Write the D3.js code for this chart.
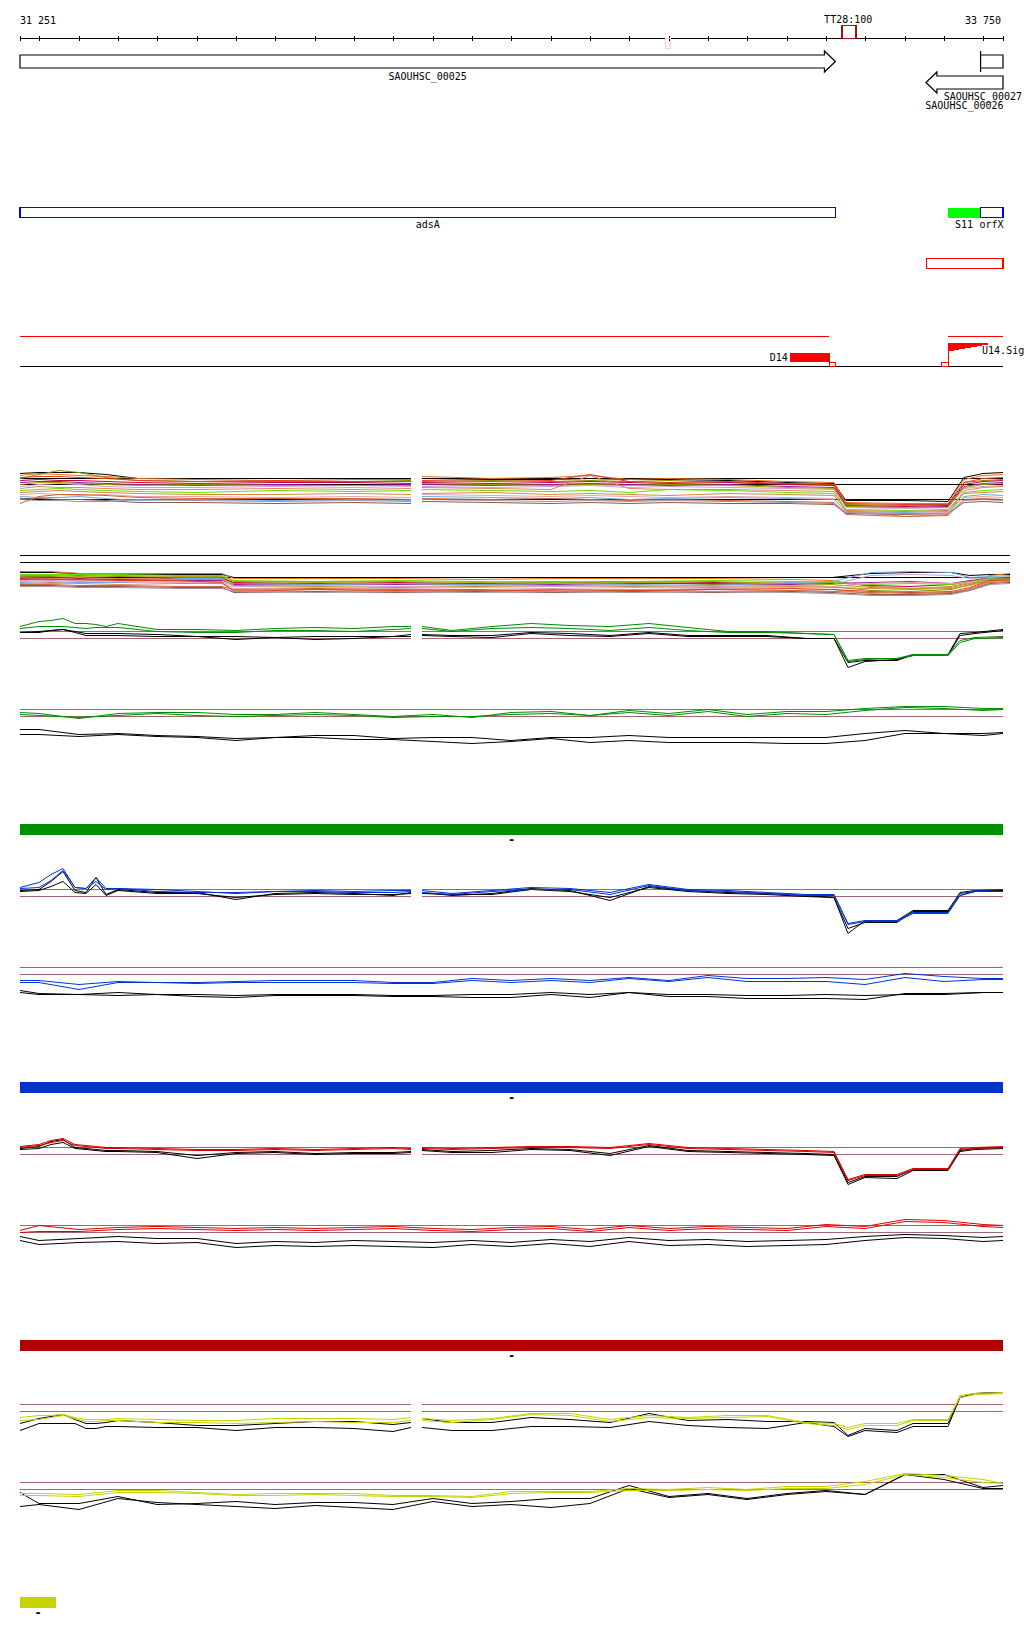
<!DOCTYPE html>
<html>
<head>
<meta charset="utf-8">
<script src="https://cdn.jsdelivr.net/npm/d3@7"></script>
<style>
body { margin: 0; background: #fff; }
text { font-family: "DejaVu Sans Mono", monospace; font-size: 10px; fill: #000; }
</style>
</head>
<body>
<script>
// view window (bp)
var viewStart = 31251, viewEnd = 33750;
var gapStart = 32245, gapEnd = 32273;

// annotation
var genes = [
    {name: "SAOUHSC_00025", start: 31251, end: 33324, strand: 1},
    {name: "SAOUHSC_00027", start: 33693, end: 33750, strand: -1},
    {name: "SAOUHSC_00026", start: 33554, end: 33750, strand: -1}
];
var regions = [
    {name: "adsA", start: 31251, end: 33324, fill: "none"},
    {name: "S11", start: 33610, end: 33692, fill: "#00ff00"},
    {name: "orfX", start: 33692, end: 33750, fill: "none"}
];
var redBox = [33555, 33750];
var redSegments = [[31251, 33307], [33610, 33750]];
var d14 = [33208, 33309];
var smallBoxes = [[33307, 33322], [33593, 33610]];
var u14 = [33610, 33712];
var tt28 = [33341, 33377];
var faintMark = [32891, 32905];

// multi-sample track 1 (with gap)
var posA = [31251, 31300, 31350, 31400, 31470, 31550, 31700, 31900, 32100, 32245, 32259, 32273, 32450, 32600, 32700, 32800, 32900, 33050, 33200, 33320, 33350, 33500, 33610, 33650, 33700, 33750];
var refA = [0.6, 0.0, -1.5];
var seriesA = [
    [1.1,1.2,1.2,1.2,1.0,0.6,0.6,0.6,0.6,0.6,null,0.6,0.5,0.5,0.6,0.5,0.5,0.4,0.2,0.1,-1.6,-1.6,-1.7,0.7,1.1,1.2],
    [0.9,1.1,1.0,0.9,0.8,0.6,0.5,0.4,0.5,0.5,null,0.8,0.6,0.7,0.9,0.5,0.6,0.5,0.3,0.2,-1.8,-1.9,-1.9,0.5,0.9,1.0],
    [0.6,1.0,1.4,1.2,0.7,0.4,0.3,0.3,0.3,0.4,null,0.3,0.4,0.3,0.4,0.3,0.4,0.2,0.1,0.0,-2.0,-2.1,-2.0,0.2,0.4,0.5],
    [0.4,0.5,0.4,0.4,0.3,0.2,0.1,0.2,0.2,0.1,null,0.2,0.1,0.2,0.3,0.2,0.1,0.2,0.0,-0.1,-2.1,-2.2,-2.1,0.0,0.3,0.4],
    [0.2,0.3,0.3,0.2,0.1,0.0,-0.1,0.0,-0.1,0.0,null,0.0,-0.1,0.0,0.1,0.0,-0.1,0.0,-0.2,-0.3,-2.2,-2.3,-2.2,-0.2,0.1,0.2],
    [-0.2,0.0,0.1,0.0,-0.2,-0.3,-0.3,-0.2,-0.3,-0.2,null,-0.2,-0.3,-0.2,-0.1,-0.3,-0.2,-0.3,-0.4,-0.5,-2.3,-2.4,-2.3,-0.4,-0.2,-0.1],
    [-0.4,-0.2,-0.3,-0.3,-0.4,-0.5,-0.5,-0.4,-0.5,-0.4,null,-0.3,-0.4,-0.5,0.9,-0.4,-0.5,-0.5,-0.6,-0.7,-2.6,-3.2,-3.0,-0.6,-0.3,-0.2],
    [-0.6,-0.5,-0.4,-0.5,-0.6,-0.7,-0.8,-0.6,-0.7,-0.6,null,-0.5,-0.6,-0.7,-0.6,-0.8,-0.5,-0.6,-0.8,-0.9,-2.5,-2.6,-2.5,-0.8,-0.6,-0.5],
    [-1.2,-1.3,-1.3,-1.2,-1.4,-1.6,-1.5,-1.6,-1.5,-1.6,null,-1.2,-1.3,-1.4,-1.3,-1.5,-1.4,-1.3,-1.4,-1.5,-2.7,-2.8,-2.7,-1.2,-1.0,-1.1],
    [-1.4,-1.4,-1.5,-1.5,-1.6,-1.8,-1.8,-1.9,-1.8,-1.9,null,-1.7,-1.8,-1.9,-1.8,-1.9,-1.8,-1.9,-1.9,-2.0,-2.9,-3.0,-2.9,-1.8,-1.7,-1.8],
    [-0.8,-0.7,-0.6,-0.7,-0.8,-0.9,-1.0,-1.0,-0.9,-1.0,null,-0.9,-0.8,-1.0,-0.9,-1.0,-1.1,-0.9,-1.0,-1.1,-2.6,-2.7,-2.6,-0.9,-0.8,-0.7],
    [-1.0,-0.9,-1.0,-1.1,-1.0,-1.2,-1.2,-1.3,-1.2,-1.3,null,-1.0,-1.1,-1.2,-1.1,-1.2,-1.3,-1.2,-1.3,-1.4,-2.8,-2.9,-2.8,-1.3,-1.2,-1.3],
    [-1.9,-1.2,-1.0,-1.0,-1.1,-1.3,-1.4,-1.4,-1.4,-1.5,null,-1.4,-1.5,-1.4,-1.5,-1.6,-1.5,-1.6,-1.7,-1.8,-3.0,-3.2,-3.1,-1.5,-1.4,-1.5],
    [0.0,0.2,0.2,0.1,0.0,-0.1,0.0,-0.1,-0.1,-0.1,null,0.1,0.0,-0.1,0.0,-0.1,0.0,-0.1,-0.3,-0.4,-2.2,-2.3,-2.3,-0.3,0.0,0.1],
    [0.7,0.8,0.8,0.7,0.6,0.4,0.3,0.4,0.3,0.3,null,0.4,0.3,0.4,1.0,0.3,0.2,0.3,0.1,0.0,-1.9,-2.0,-2.0,0.2,0.6,0.7],
    [-1.5,-1.6,-1.6,-1.7,-1.7,-1.5,-1.6,-1.7,-1.6,-1.7,null,-1.5,-1.6,-1.7,-1.6,-1.7,-1.6,-1.7,-1.8,-1.9,-2.8,-2.9,-2.9,-1.6,-1.5,-1.6]
];

// multi-sample track 2 (continuous)
var posB = [31251, 31330, 31400, 31500, 31650, 31760, 31790, 32000, 32200, 32400, 32600, 32800, 33000, 33200, 33300, 33400, 33500, 33600, 33650, 33700, 33750];
var refB = [2.5, 1.8, 0.3];
var seriesB = [
    [0.8,0.8,0.7,0.6,0.6,0.6,0.3,0.3,0.3,0.3,0.3,0.3,0.3,0.3,0.3,0.7,0.8,0.8,0.5,0.6,0.6],
    [0.9,0.9,0.7,0.7,0.7,0.7,0.2,0.2,0.2,0.1,0.2,0.2,0.2,0.1,0.0,-0.6,-0.8,-0.6,-0.2,0.5,0.7],
    [0.4,0.4,0.5,0.4,0.3,0.3,-0.3,-0.4,-0.3,-0.4,-0.3,-0.2,-0.4,-0.5,-0.6,-1.0,-1.1,-0.9,-0.4,0.1,0.2],
    [0.2,0.3,0.2,0.1,0.2,0.2,-0.2,-0.1,-0.2,-0.3,-0.2,-0.1,-0.2,-0.3,-0.2,-0.5,-0.6,-0.4,-0.1,0.3,0.3],
    [0.1,0.2,0.0,0.1,0.0,0.0,-0.4,-0.3,-0.4,-0.3,-0.4,-0.3,-0.3,-0.4,-0.3,-0.2,-0.1,-0.3,0.0,0.2,0.2],
    [-0.1,0.0,-0.1,-0.2,-0.1,-0.1,-0.6,-0.5,-0.6,-0.5,-0.6,-0.5,-0.6,-0.5,-0.4,0.5,0.6,0.5,0.2,0.3,0.4],
    [-0.3,-0.2,-0.3,-0.4,-0.3,-0.3,-1.0,-0.9,-1.1,-1.0,-1.0,-0.9,-1.1,-1.0,-0.9,-1.3,-1.5,-1.3,-0.8,-0.1,0.0],
    [0.6,0.6,0.6,0.6,0.5,0.5,0.0,-0.1,0.0,-0.1,-0.2,-0.1,0.0,-0.1,-0.2,-0.4,-0.3,-0.4,-0.1,0.2,0.1],
    [-0.2,-0.3,-0.2,-0.2,0.2,0.2,-0.5,-0.4,-0.3,-0.4,-0.3,-0.4,-0.5,-0.2,-0.1,0.8,0.9,0.8,0.3,0.4,0.5],
    [-0.5,-0.5,-0.6,-0.6,-0.7,-0.7,-1.2,-1.1,-1.2,-1.1,-1.2,-1.1,-1.2,-1.1,-1.2,-1.4,-1.4,-1.3,-1.0,-0.3,-0.2],
    [0.3,0.2,0.3,0.2,0.1,0.1,-0.5,-0.6,-0.7,-0.6,-0.5,-0.6,-0.7,-0.6,-0.7,-0.8,-0.9,-0.8,-0.5,0.0,0.0],
    [0.0,-0.1,0.0,-0.1,-0.2,-0.2,-0.8,-0.7,-0.8,-0.7,-0.8,-0.7,-0.8,-0.7,-0.6,-0.3,-0.2,-0.3,-0.2,0.1,0.1],
    [-0.4,-0.4,-0.5,-0.5,-0.6,-0.6,-0.9,-0.8,-0.9,-1.0,-0.9,-1.0,-0.9,-1.0,-1.1,-1.2,-1.3,-1.2,-0.9,-0.2,-0.1],
    [0.5,0.5,0.4,0.5,0.4,0.4,-0.1,-0.2,-0.1,-0.2,-0.1,-0.2,-0.1,-0.3,-0.4,-0.7,-0.8,-0.7,-0.3,0.1,0.2],
    [0.1,0.1,0.1,0.0,0.0,-0.2,-1.1,-0.9,-1.0,-0.9,-1.1,-1.0,-0.9,-0.8,-0.9,-1.1,-1.2,-1.1,-0.7,0.0,0.1],
    [-0.6,-0.6,-0.7,-0.7,-0.8,-0.8,-1.1,-1.2,-1.1,-1.2,-1.1,-1.2,-1.1,-1.2,-1.3,-1.5,-1.5,-1.4,-1.0,-0.4,-0.3]
];
var sampleColours = ["#000000","#e8731f","#8c8c00","#c8003c","#9a1a9a","#c8a0d2","#e8806a","#66dd00",
                     "#6aa8e8","#8b5a4b","#d48a3a","#e8a0b0","#cc6633","#a8a800","#e04020","#a090a8"];

// condition tracks: positions
var posGap = [31251, 31300, 31330, 31360, 31390, 31420, 31445, 31470, 31500, 31600, 31700, 31800, 31900, 32000, 32100, 32200, 32245, 32259,
              32273, 32350, 32450, 32550, 32650, 32750, 32850, 32950, 33050, 33150, 33250, 33320, 33355, 33400, 33480, 33520, 33610, 33640, 33680, 33750];
var posFull = [31251, 31300, 31400, 31500, 31600, 31700, 31800, 31900, 32000, 32100, 32200, 32300, 32400, 32500,
               32600, 32700, 32800, 32900, 33000, 33100, 33200, 33300, 33400, 33500, 33600, 33700, 33750];

// green condition
var greenGapCol = [
    [0.8,1.3,1.4,1.6,1.1,1.1,1.0,0.8,1.1,0.5,0.5,0.4,0.6,0.7,0.6,0.8,0.8,null,0.8,0.4,0.8,1.1,0.9,0.8,1.1,0.7,0.3,0.3,0.1,0.0,-2.6,-2.4,-2.4,-2.0,-2.0,-0.6,-0.3,-0.2],
    [0.6,0.8,0.8,0.8,0.7,0.6,0.7,0.7,0.7,0.3,0.2,0.2,0.4,0.4,0.3,0.5,0.6,null,0.6,0.3,0.6,0.7,0.6,0.4,0.7,0.4,0.2,0.2,0.1,0.0,-2.7,-2.5,-2.4,-2.1,-2.1,-0.8,-0.4,-0.3]
];
var greenGapBlk = [
    [0.2,0.3,0.4,0.5,0.3,0.1,0.1,0.1,0.1,0.0,-0.2,-0.2,-0.3,-0.5,-0.4,-0.2,-0.2,null,0.0,-0.1,-0.1,0.2,0.1,-0.1,0.2,-0.1,-0.1,-0.1,-0.4,-0.4,-2.8,-2.6,-2.6,-2.0,-2.0,0.1,0.2,0.5],
    [0.2,0.2,0.4,0.5,0.2,-0.1,-0.1,-0.1,-0.1,-0.2,-0.2,-0.5,-0.3,-0.2,-0.2,-0.2,0.0,null,-0.1,-0.2,-0.3,0.1,-0.1,-0.2,0.1,-0.2,-0.2,-0.2,-0.4,-0.4,-3.3,-2.7,-2.5,-2.1,-2.1,-0.1,0.1,0.4]
];
var greenFullCol = [
    [0.0,-0.1,-0.6,-0.1,0.0,0.0,-0.2,-0.2,0.0,-0.2,-0.4,-0.2,-0.5,0.0,0.1,-0.3,0.2,-0.1,0.3,-0.2,0.1,0.1,0.4,0.6,0.6,0.4,0.4],
    [-0.2,-0.3,-0.5,-0.3,-0.1,-0.3,-0.4,-0.3,-0.2,-0.3,-0.5,-0.4,-0.4,-0.2,-0.1,-0.3,0.0,-0.3,0.1,-0.4,-0.1,-0.2,0.2,0.5,0.4,0.2,0.3]
];
var greenFullBlk = [
    [-1.7,-1.7,-2.2,-2.1,-2.3,-2.4,-2.6,-2.5,-2.3,-2.3,-2.6,-2.5,-2.5,-2.8,-2.5,-2.5,-2.3,-2.5,-2.5,-2.5,-2.5,-2.5,-2.1,-1.8,-2.1,-2.1,-2.0],
    [-2.2,-2.2,-2.4,-2.2,-2.4,-2.5,-2.8,-2.5,-2.5,-2.7,-2.7,-2.9,-3.1,-2.9,-2.6,-3.0,-2.8,-3.0,-3.0,-3.0,-3.1,-3.1,-2.8,-2.1,-2.1,-2.3,-2.1]
];

// blue condition
var blueGapCol = [
    [0.5,1.0,1.8,2.4,0.5,0.4,1.5,0.4,0.4,0.3,0.1,-0.1,0.1,0.2,0.1,0.2,0.2,null,0.2,-0.1,0.2,0.5,0.4,0.0,0.8,0.3,0.2,0.0,-0.2,-0.2,-3.1,-2.8,-2.8,-2.0,-2.0,-0.1,0.1,0.1],
    [0.4,0.5,1.2,2.2,0.5,0.4,1.1,0.3,0.4,0.1,0.0,0.0,0.1,0.1,0.0,0.0,0.1,null,0.0,-0.2,0.1,0.3,0.3,-0.2,0.7,0.2,0.1,-0.1,-0.3,-0.3,-3.2,-2.9,-2.9,-2.1,-2.1,-0.3,0.2,0.3]
];
var blueGapBlk = [
    [0.2,0.3,1.1,2.1,0.2,0.0,1.5,-0.2,0.3,0.0,0.0,-0.7,-0.1,0.0,-0.1,-0.3,0.0,null,0.0,-0.3,-0.1,0.4,0.2,-0.8,0.6,0.2,0.0,-0.1,-0.3,-0.5,-4.1,-2.8,-2.8,-1.8,-1.8,0.0,0.2,0.2],
    [0.1,0.2,0.6,1.1,0.0,-0.1,0.8,-0.3,0.2,-0.1,-0.1,-0.5,-0.2,-0.1,-0.2,-0.2,-0.1,null,-0.1,-0.2,-0.2,0.3,0.1,-0.5,0.5,0.1,-0.1,-0.2,-0.4,-0.5,-3.6,-3.0,-3.0,-1.9,-1.9,-0.3,0.1,0.1]
];
var blueFullCol = [
    [-1.0,-1.0,-1.4,-1.1,-1.2,-1.2,-1.1,-1.0,-1.0,-1.0,-1.2,-1.2,-0.8,-1.0,-0.8,-1.0,-0.7,-1.0,-0.5,-0.8,-0.8,-0.7,-0.9,-0.3,-0.6,-0.8,-0.8],
    [-1.2,-1.2,-1.9,-1.2,-1.2,-1.3,-1.2,-1.2,-1.2,-1.2,-1.3,-1.3,-1.0,-1.2,-1.0,-1.2,-0.8,-1.1,-0.7,-1.1,-1.1,-1.1,-1.4,-0.7,-1.1,-0.9,-0.9]
];
var blueFullBlk = [
    [-2.0,-2.3,-2.4,-2.2,-2.4,-2.4,-2.5,-2.4,-2.4,-2.4,-2.5,-2.5,-2.4,-2.4,-2.2,-2.4,-2.2,-2.4,-2.4,-2.5,-2.5,-2.4,-2.5,-2.4,-2.4,-2.2,-2.2],
    [-2.2,-2.4,-2.4,-2.5,-2.4,-2.6,-2.7,-2.5,-2.5,-2.5,-2.6,-2.6,-2.7,-2.7,-2.4,-2.7,-2.2,-2.6,-2.6,-2.8,-2.8,-2.8,-2.9,-2.3,-2.3,-2.2,-2.2]
];

// red condition
var redGapCol = [
    [0.4,0.6,1.0,1.2,0.6,0.5,0.4,0.3,0.3,0.2,0.1,0.1,0.2,0.1,0.2,0.3,0.2,null,0.3,0.2,0.3,0.4,0.4,0.3,0.7,0.3,0.2,0.1,0.0,-0.1,-2.9,-2.4,-2.4,-1.8,-1.8,0.2,0.3,0.4],
    [0.3,0.5,0.8,1.0,0.5,0.4,0.3,0.2,0.2,0.1,0.0,0.0,0.1,0.0,0.1,0.2,0.1,null,0.2,0.1,0.2,0.3,0.3,0.2,0.6,0.2,0.1,0.0,-0.1,-0.2,-3.0,-2.5,-2.5,-1.9,-1.9,0.1,0.2,0.3]
];
var redGapBlk = [
    [0.2,0.4,0.9,1.1,0.3,0.2,0.1,0.0,0.0,-0.1,-0.5,-0.2,-0.1,-0.3,-0.2,-0.2,-0.1,null,0.1,-0.1,0.0,0.2,0.1,-0.3,0.5,0.0,-0.1,-0.2,-0.3,-0.4,-3.2,-2.6,-2.6,-1.9,-1.9,0.0,0.2,0.3],
    [0.1,0.2,0.6,0.8,0.2,0.1,0.0,-0.1,-0.1,-0.2,-0.8,-0.3,-0.2,-0.4,-0.3,-0.3,-0.2,null,0.0,-0.2,-0.2,0.1,0.0,-0.5,0.4,-0.1,-0.2,-0.3,-0.4,-0.5,-3.4,-2.7,-2.8,-2.0,-2.0,-0.1,0.1,0.2]
];
var redFullCol = [
    [-0.2,0.3,-0.1,0.1,0.2,0.1,0.0,0.1,0.0,0.1,0.2,0.0,-0.1,0.1,0.2,-0.1,0.3,0.0,0.2,0.1,0.0,0.4,0.2,0.9,0.8,0.4,0.3],
    [-0.4,-0.3,-0.3,-0.1,0.0,-0.1,-0.2,-0.1,-0.2,-0.1,0.0,-0.2,-0.3,-0.1,0.0,-0.3,0.1,-0.2,0.0,-0.1,-0.2,0.2,0.0,0.7,0.6,0.2,0.1]
];
var redFullBlk = [
    [-0.8,-1.2,-1.0,-0.8,-1.0,-1.0,-1.5,-1.3,-1.4,-1.2,-1.3,-1.4,-1.2,-1.4,-1.1,-1.3,-0.9,-1.2,-1.1,-1.3,-1.2,-1.1,-0.8,-0.6,-0.7,-0.9,-0.8],
    [-1.2,-1.6,-1.4,-1.3,-1.5,-1.4,-1.9,-1.7,-1.8,-1.7,-1.8,-1.9,-1.6,-1.8,-1.5,-1.8,-1.3,-1.7,-1.6,-1.8,-1.7,-1.6,-1.2,-0.9,-1.0,-1.3,-1.2]
];

// yellow condition
var yellowGapCol = [
    [-1.0,-0.8,-0.8,-0.7,-1.0,-1.2,-1.2,-1.2,-1.1,-1.2,-1.3,-1.3,-1.1,-1.1,-1.1,-1.2,-1.0,null,-1.1,-1.3,-1.1,-0.6,-0.6,-1.2,-0.8,-1.0,-0.8,-0.8,-1.5,-1.6,-2.0,-1.6,-1.6,-1.2,-1.2,1.2,1.4,1.5],
    [-1.3,-1.2,-1.0,-0.8,-1.1,-1.4,-1.4,-1.3,-1.3,-1.5,-1.5,-1.6,-1.5,-1.4,-1.5,-1.5,-1.3,null,-1.3,-1.5,-1.2,-0.7,-0.8,-1.4,-1.0,-1.1,-1.0,-0.9,-1.6,-1.8,-2.2,-1.8,-1.8,-1.3,-1.3,1.0,1.3,1.4]
];
var yellowGapBlk = [
    [-1.6,-1.1,-0.9,-0.7,-1.2,-1.6,-1.6,-1.5,-1.3,-1.5,-1.8,-1.8,-1.6,-1.4,-1.4,-1.7,-1.5,null,-1.1,-1.5,-1.5,-1.0,-1.2,-1.5,-0.6,-1.3,-1.2,-1.4,-1.4,-1.5,-2.8,-2.1,-2.3,-1.6,-1.6,1.0,1.4,1.5],
    [-2.3,-1.6,-1.6,-1.6,-1.6,-2.1,-2.1,-1.9,-1.9,-2.0,-2.0,-2.3,-2.0,-2.0,-2.1,-2.4,-2.0,null,-2.0,-2.3,-2.3,-1.9,-1.9,-2.0,-1.4,-1.8,-2.0,-2.1,-1.5,-1.9,-2.9,-2.3,-2.5,-1.9,-1.9,1.0,1.4,1.5]
];
var yellowFullCol = [
    [-0.8,-0.8,-0.9,-0.5,-0.5,-0.7,-0.9,-0.8,-0.8,-0.8,-1.0,-1.0,-1.1,-0.6,-0.6,-0.6,-0.3,-0.4,-0.2,-0.4,-0.1,-0.1,0.4,1.2,1.0,0.6,0.2],
    [-1.0,-1.0,-1.1,-0.7,-0.7,-0.8,-1.0,-1.0,-0.9,-1.0,-1.1,-1.1,-1.2,-0.8,-0.7,-0.7,-0.5,-0.5,-0.4,-0.5,-0.3,-0.3,0.1,1.1,0.8,0.3,0.2]
];
var yellowFullBlk = [
    [-0.7,-1.8,-1.8,-1.1,-1.9,-1.8,-1.6,-1.9,-1.7,-1.7,-1.9,-1.3,-1.8,-1.6,-1.3,-1.3,0.0,-1.1,-0.8,-1.3,-0.8,-0.5,-0.9,1.1,1.1,-0.2,0.0],
    [-2.1,-1.9,-2.4,-1.3,-1.7,-1.9,-2.1,-2.3,-2.0,-2.2,-2.4,-1.6,-2.1,-1.9,-2.2,-1.8,-0.3,-1.2,-0.9,-1.4,-0.9,-0.6,-0.9,1.1,0.6,-0.3,-0.3]
];
var bandLimits = [0.35, -0.35];

// condition bars
var conditionBars = [
    {colour: "#008f00", start: 31251, end: 33750},
    {colour: "#0033cc", start: 31251, end: 33750},
    {colour: "#b30000", start: 31251, end: 33750},
    {colour: "#c8d400", start: 31251, end: 31343}
];

// ---------------- drawing ----------------
var width = 1024, height = 1640;

var x = d3.scaleLinear().domain([viewStart, viewEnd]).range([20, 1003]);
var xWide = d3.scaleLinear().domain([viewStart, viewEnd]).range([20, 1010]);

var svg = d3.select("body").append("svg")
    .attr("width", width)
    .attr("height", height)
    .style("display", "block")
    .attr("shape-rendering", "crispEdges");

// ruler
var spaced = d3.formatLocale({decimal: ".", thousands: " ", grouping: [3], currency: ["", ""]}).format(",");
var ruler = svg.append("g");
ruler.append("line")
    .attr("x1", x(viewStart)).attr("x2", x(viewEnd))
    .attr("y1", 38.5).attr("y2", 38.5)
    .attr("stroke", "#000");
var tickPos = [viewStart].concat(x.ticks(25), [viewEnd]);
ruler.selectAll("line.tick").data(tickPos).enter().append("line")
    .attr("class", "tick")
    .attr("x1", function(d) { return Math.round(x(d)) + 0.5; })
    .attr("x2", function(d) { return Math.round(x(d)) + 0.5; })
    .attr("y1", 36).attr("y2", 41)
    .attr("stroke", "#000");
ruler.append("text").attr("x", x(viewStart)).attr("y", 24).text(spaced(viewStart));
ruler.append("text").attr("x", x(viewEnd) - 2).attr("y", 24).attr("text-anchor", "end").text(spaced(viewEnd));

ruler.append("rect")
    .attr("x", x(faintMark[0])).attr("y", 38)
    .attr("width", x(faintMark[1]) - x(faintMark[0])).attr("height", 10)
    .attr("fill", "none").attr("stroke", "#ffd0c4");
ruler.append("rect")
    .attr("x", x(tt28[0])).attr("y", 25.5)
    .attr("width", x(tt28[1]) - x(tt28[0])).attr("height", 13)
    .attr("fill", "none").attr("stroke", "#a01010").attr("stroke-width", 1.6);
ruler.append("text").attr("x", (x(tt28[0]) + x(tt28[1])) / 2 - 1).attr("y", 23)
    .attr("text-anchor", "middle").text("TT28:100");

// genes
function arrowPath(s, e, yc, strand) {
    var x0 = x(s), x1 = x(e), b = 6.5, h = 10.5, hl = 11;
    if (strand > 0) {
        return "M" + x0 + "," + (yc - b) + "H" + (x1 - hl) + "V" + (yc - h) + "L" + x1 + "," + yc +
            "L" + (x1 - hl) + "," + (yc + h) + "V" + (yc + b) + "H" + x0 + "Z";
    }
    return "M" + x1 + "," + (yc - b) + "H" + (x0 + hl) + "V" + (yc - h) + "L" + x0 + "," + yc +
        "L" + (x0 + hl) + "," + (yc + h) + "V" + (yc + b) + "H" + x1 + "Z";
}
function labelX(cx, txt) {
    // keep the label inside the page
    var half = txt.length * 6.02 / 2;
    return Math.min(cx, width - 2 - half);
}
var geneRows = {"SAOUHSC_00025": [61.5, 80], "SAOUHSC_00027": [61.5, 100], "SAOUHSC_00026": [82.5, 109]};
var geneG = svg.append("g").attr("shape-rendering", "auto");
genes.forEach(function(g) {
    var row = geneRows[g.name];
    var d;
    if (x(g.end) - x(g.start) < 30) {
        // too short for a head: shaft plus head base only
        var x0 = x(g.start), x1 = x(g.end), yc = row[0];
        d = "M" + x0 + "," + (yc - 10.5) + "V" + (yc + 10.5) + "M" + x0 + "," + (yc - 6.5) + "H" + x1 + "V" + (yc + 6.5) + "H" + x0;
    } else {
        d = arrowPath(g.start, g.end, row[0], g.strand);
    }
    geneG.append("path").attr("d", d).attr("fill", "none").attr("stroke", "#000").attr("stroke-width", 1.2);
    geneG.append("text").attr("x", labelX((x(g.start) + x(g.end)) / 2, g.name)).attr("y", row[1])
        .attr("text-anchor", "middle").text(g.name);
});

// regions
regions.forEach(function(r) {
    svg.append("rect")
        .attr("x", x(r.start)).attr("y", 207.5)
        .attr("width", x(r.end) - x(r.start)).attr("height", 10)
        .attr("fill", r.fill)
        .attr("stroke", r.fill === "none" ? "#0000ff" : "none")
        .attr("stroke-width", 1.3);
    svg.append("text").attr("x", (x(r.start) + x(r.end)) / 2).attr("y", 228)
        .attr("text-anchor", "middle").text(r.name);
});
svg.append("rect")
    .attr("x", x(redBox[0])).attr("y", 258.5)
    .attr("width", x(redBox[1]) - x(redBox[0])).attr("height", 10)
    .attr("fill", "none").attr("stroke", "#ff0000").attr("stroke-width", 1.2);

// transcripts / signals
redSegments.forEach(function(s) {
    svg.append("line").attr("x1", x(s[0])).attr("x2", x(s[1]))
        .attr("y1", 336.5).attr("y2", 336.5).attr("stroke", "#ff0000");
});
svg.append("line").attr("x1", x(viewStart)).attr("x2", x(viewEnd))
    .attr("y1", 366.5).attr("y2", 366.5).attr("stroke", "#000").attr("stroke-width", 1.3);
svg.append("rect").attr("x", x(d14[0])).attr("y", 353)
    .attr("width", x(d14[1]) - x(d14[0])).attr("height", 9).attr("fill", "#ff0000");
svg.append("text").attr("x", x(d14[0]) - 2).attr("y", 361).attr("text-anchor", "end").text("D14");
smallBoxes.forEach(function(b) {
    svg.append("rect").attr("x", x(b[0]) + 0.5).attr("y", 362.5)
        .attr("width", x(b[1]) - x(b[0])).attr("height", 4)
        .attr("fill", "none").attr("stroke", "#ff0000");
});
svg.append("path")
    .attr("d", "M" + x(u14[0]) + ",343H" + x(u14[1]) + "V344.5L" + x(u14[0]) + ",351.5Z")
    .attr("fill", "#ff0000");
svg.append("line").attr("x1", x(u14[0]) + 0.5).attr("x2", x(u14[0]) + 0.5)
    .attr("y1", 343).attr("y2", 366).attr("stroke", "#ff0000");
svg.append("text").attr("x", x(u14[1]) - 6).attr("y", 354).text("U14.Sig");

// data tracks
function drawTrack(cy, xs, pos, list, colours, refs, refColour, gapped) {
    var y = d3.scaleLinear().domain([-1, 1]).range([cy + 10, cy - 10]);
    var g = svg.append("g");
    var segs = gapped ? [[viewStart, gapStart], [gapEnd, viewEnd]] : [[viewStart, viewEnd]];
    refs.forEach(function(v) {
        segs.forEach(function(s) {
            g.append("line")
                .attr("x1", xs(s[0])).attr("x2", xs(s[1]))
                .attr("y1", Math.round(y(v)) + 0.5).attr("y2", Math.round(y(v)) + 0.5)
                .attr("stroke", refColour);
        });
    });
    var line = d3.line()
        .defined(function(d) { return d[1] !== null; })
        .x(function(d) { return Math.round(xs(d[0])); })
        .y(function(d) { return Math.round(y(d[1])) + 0.5; });
    list.forEach(function(vals, i) {
        g.append("path")
            .datum(d3.zip(pos, vals))
            .attr("d", line)
            .attr("fill", "none")
            .attr("stroke", colours[i])
            .attr("stroke-width", 1)
            .attr("stroke-linejoin", "round")
            .attr("shape-rendering", "auto");
    });
}

drawTrack(484, x, posA, seriesA, sampleColours, refA, "#000", true);
drawTrack(580, xWide, posB, seriesB, sampleColours, refB, "#000", false);

var conditions = [
    {colour: "#008c00", gapCol: greenGapCol, gapBlk: greenGapBlk, fullCol: greenFullCol, fullBlk: greenFullBlk},
    {colour: "#0033d6", gapCol: blueGapCol, gapBlk: blueGapBlk, fullCol: blueFullCol, fullBlk: blueFullBlk},
    {colour: "#dd0000", gapCol: redGapCol, gapBlk: redGapBlk, fullCol: redFullCol, fullBlk: redFullBlk},
    {colour: "#c8d400", gapCol: yellowGapCol, gapBlk: yellowGapBlk, fullCol: yellowFullCol, fullBlk: yellowFullBlk}
];
var groupTop = [634, 892, 1150, 1407];
conditions.forEach(function(c, i) {
    var cy1 = groupTop[i], cy2 = cy1 + 78;
    drawTrack(cy1, x, posGap, c.gapBlk.concat(c.gapCol), ["#000", "#000", c.colour, c.colour], bandLimits, "#a06868", true);
    drawTrack(cy2, x, posFull, c.fullBlk.concat(c.fullCol), ["#000", "#000", c.colour, c.colour], bandLimits, "#a06868", false);
});

// condition bars
var barTop = [824, 1082, 1340, 1597];
conditionBars.forEach(function(b, i) {
    svg.append("rect")
        .attr("x", x(b.start)).attr("y", barTop[i])
        .attr("width", x(b.end) - x(b.start)).attr("height", 11)
        .attr("fill", b.colour);
    svg.append("text")
        .attr("x", (x(b.start) + x(b.end)) / 2).attr("y", barTop[i] + 20)
        .attr("text-anchor", "middle")
        .style("font-size", "12px").style("font-weight", "bold")
        .text("-");
});
</script>
</body>
</html>
